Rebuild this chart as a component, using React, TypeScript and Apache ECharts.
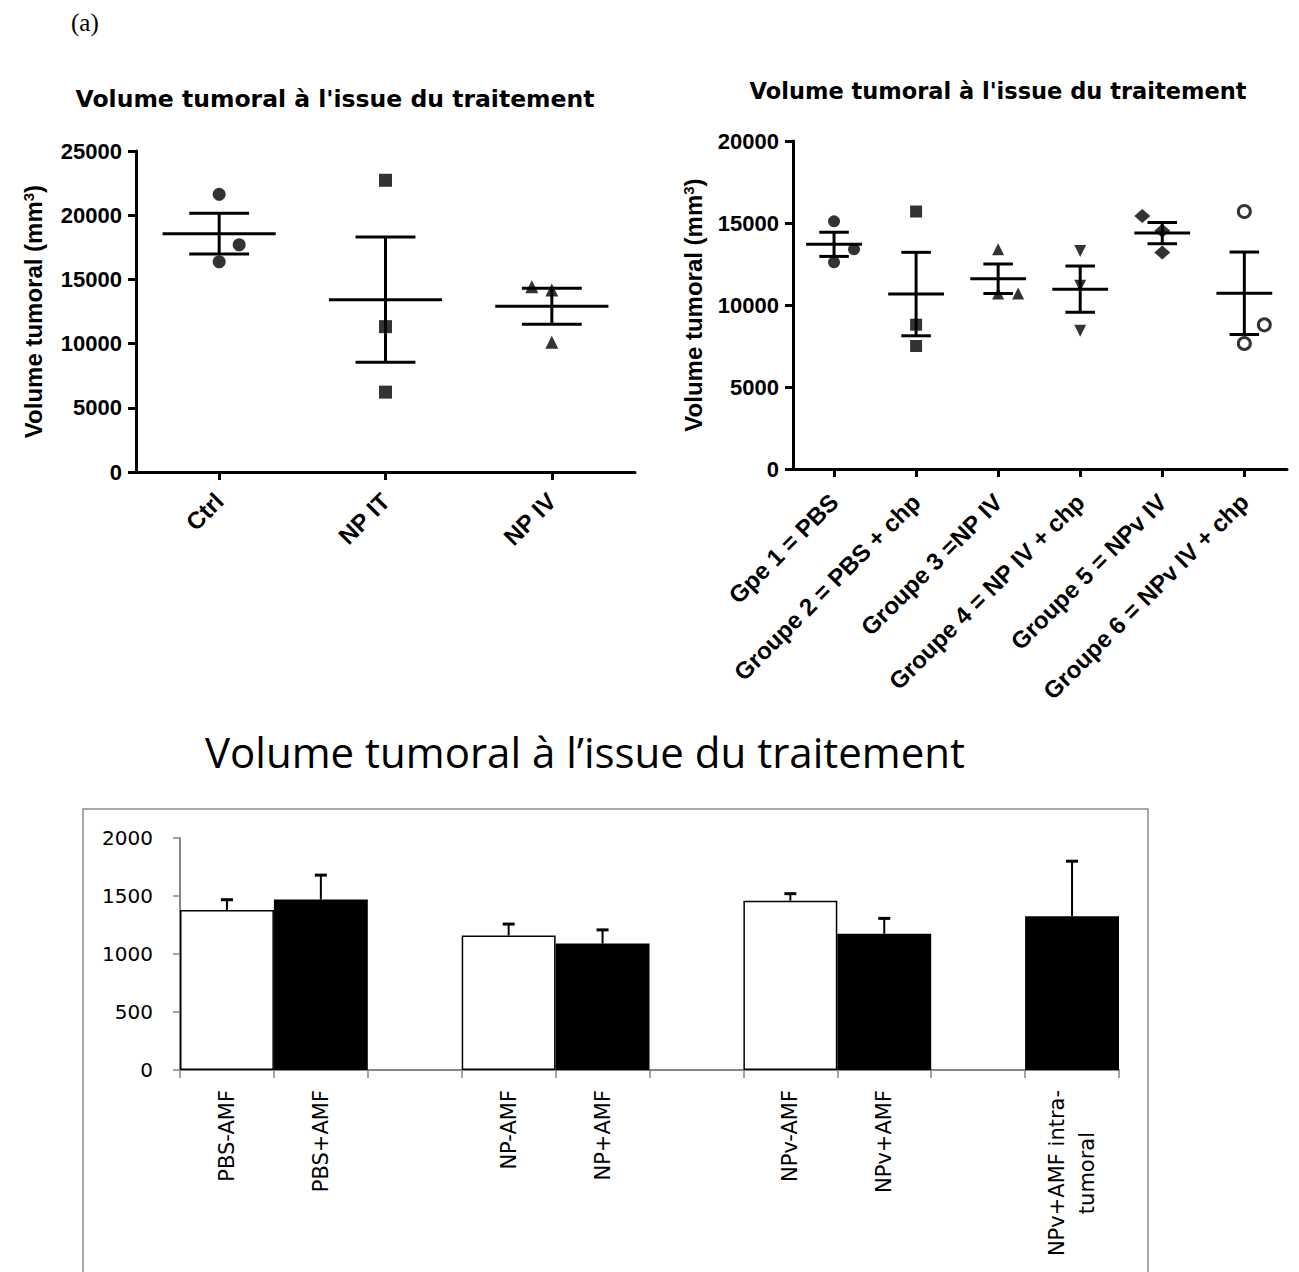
import React, { useEffect, useRef } from "react";
import * as echarts from "echarts";

// ---------- texts
const panelLabel = "(a)";
const dotPlotTitle = "Volume tumoral à l'issue du traitement";
const barChartTitle = "Volume tumoral à l’issue du traitement";
const volumeAxisName = "{t|Volume tumoral (mm}{s|3}{t|)}";

// ---------- left dot plot: individual tumour volumes (mm3)
const leftGroups = ["Ctrl", "NP IT", "NP IV"];
const ctrlVolumes = [21630, 17690, 16370];
const npItVolumes = [22720, 11320, 6220];
const npIvVolumes = [14430, 14170, 10100];
const leftVolumes = [ctrlVolumes, npItVolumes, npIvVolumes];
const leftSymbols = ["circle", "rect", "triangle"];
const leftJitterPx = [[0, 20, 0], [0, 0, 0], [-20, 0, 0]];
const leftYMax = 25000;
const leftYStep = 5000;

// ---------- right dot plot: individual tumour volumes (mm3)
const rightGroups = [
  "Gpe 1 = PBS",
  "Groupe 2 = PBS + chp",
  "Groupe 3 =NP IV",
  "Groupe 4 = NP IV + chp",
  "Groupe 5 = NPv IV",
  "Groupe 6 = NPv IV + chp",
];
const gpe1Volumes = [15100, 12600, 13400];
const gpe2Volumes = [15700, 8800, 7500];
const gpe3Volumes = [13400, 10700, 10700];
const gpe4Volumes = [13300, 11170, 8430];
const gpe5Volumes = [15430, 14520, 13200];
const gpe6Volumes = [15700, 8790, 7655];
const rightVolumes = [gpe1Volumes, gpe2Volumes, gpe3Volumes, gpe4Volumes, gpe5Volumes, gpe6Volumes];
const rightSymbols = ["circle", "rect", "triangle", "triangle", "diamond", "circle"];
const rightSymbolRotate = [0, 0, 0, 180, 0, 0];
const rightHollow = [false, false, false, false, false, true];
const rightJitterPx = [[0, 0, 20], [0, 0, 0], [0, 0, 20], [0, 0, 0], [-20, 0, 0], [0, 20, 0]];
const rightYMax = 20000;
const rightYStep = 5000;

// ---------- bottom bar chart (empty slots separate the groups)
const barCategories = [
  "PBS-AMF",
  "PBS+AMF",
  " ",
  "NP-AMF",
  "NP+AMF",
  "  ",
  "NPv-AMF",
  "NPv+AMF",
  "   ",
  "NPv+AMF intra-\ntumoral",
];
const withoutAmf = [1380, null, null, 1160, null, null, 1460, null, null, null];
const withAmf = [null, 1470, null, null, 1090, null, null, 1175, null, 1325];
const withoutAmfError = [88, null, null, 98, null, null, 60, null, null, null];
const withAmfError = [null, 210, null, null, 118, null, null, 132, null, 475];
const barYMax = 2000;
const barYStep = 500;

// ---------- helpers
const mean = (a: number[]) => a.reduce((s, v) => s + v, 0) / a.length;
const sem = (a: number[]) => {
  const m = mean(a);
  const sd = Math.sqrt(a.reduce((s, v) => s + (v - m) * (v - m), 0) / (a.length - 1));
  return sd / Math.sqrt(a.length);
};
const plain = (v: number) => String(v);

const ARIAL = "Liberation Sans";
const BLACK = "#000";
const GREY = "#868686";

function meanSemSeries(groups: number[][], axisIndex: number) {
  return {
    type: "custom",
    xAxisIndex: axisIndex,
    yAxisIndex: axisIndex,
    silent: true,
    z: 3,
    encode: { x: 0, y: [1, 2, 3] },
    data: groups.map((g, i) => {
      const m = mean(g);
      const e = sem(g);
      return [i + 1, m, m - e, m + e];
    }),
    renderItem: (_params: any, api: any) => {
      const x = api.value(0);
      const m = api.value(1);
      const lo = api.value(2);
      const hi = api.value(3);
      const mL = api.coord([x - 0.34, m]);
      const mR = api.coord([x + 0.34, m]);
      const loL = api.coord([x - 0.18, lo]);
      const loR = api.coord([x + 0.18, lo]);
      const hiL = api.coord([x - 0.18, hi]);
      const hiR = api.coord([x + 0.18, hi]);
      const c = api.coord([x, m]);
      const st = { stroke: BLACK, lineWidth: 3 };
      return {
        type: "group",
        children: [
          { type: "line", shape: { x1: mL[0], y1: mL[1], x2: mR[0], y2: mR[1] }, style: st },
          { type: "line", shape: { x1: c[0], y1: loL[1], x2: c[0], y2: hiL[1] }, style: st },
          { type: "line", shape: { x1: loL[0], y1: loL[1], x2: loR[0], y2: loR[1] }, style: st },
          { type: "line", shape: { x1: hiL[0], y1: hiL[1], x2: hiR[0], y2: hiR[1] }, style: st },
        ],
      };
    },
  };
}

function dotXAxis(gridIndex: number, names: string[], max: number, fontSize: number, margin: number) {
  const ticks = names.map((_, i) => i + 1);
  return {
    type: "value",
    gridIndex,
    min: 0.5,
    max,
    splitLine: { show: false },
    axisLine: { show: true, lineStyle: { color: BLACK, width: 3 } },
    axisTick: { show: true, customValues: ticks, length: 8, lineStyle: { color: BLACK, width: 3 } },
    axisLabel: {
      customValues: ticks,
      formatter: (v: number) => names[Math.round(v) - 1] ?? "",
      rotate: 45,
      margin,
      fontFamily: ARIAL,
      fontWeight: "bold",
      fontSize,
      color: BLACK,
    },
  };
}

function dotYAxis(gridIndex: number, max: number, step: number, nameGap: number) {
  return {
    type: "value",
    gridIndex,
    min: 0,
    max,
    interval: step,
    splitLine: { show: false },
    axisLine: { show: true, lineStyle: { color: BLACK, width: 3 } },
    axisTick: { show: true, length: 8, lineStyle: { color: BLACK, width: 3 } },
    axisLabel: { margin: 14, fontFamily: ARIAL, fontWeight: "bold", fontSize: 22, color: BLACK, formatter: plain },
    name: volumeAxisName,
    nameLocation: "middle",
    nameGap,
    nameRotate: 90,
    nameTextStyle: {
      rich: {
        t: { fontFamily: ARIAL, fontWeight: "bold", fontSize: 24, color: BLACK },
        s: { fontFamily: ARIAL, fontWeight: "bold", fontSize: 15, color: BLACK, verticalAlign: "top" },
      },
    },
  };
}

function scatterSeries(
  groups: number[][],
  axisIndex: number,
  symbols: string[],
  jitter: number[][],
  size: number,
  rotate: number[] = [],
  hollow: boolean[] = []
) {
  return groups.map((vals, gi) => ({
    type: "scatter",
    xAxisIndex: axisIndex,
    yAxisIndex: axisIndex,
    symbol: symbols[gi],
    symbolSize: symbols[gi] === "diamond" ? [size + 4, size + 2] : size,
    symbolRotate: rotate[gi] ?? 0,
    silent: true,
    z: 5,
    itemStyle: hollow[gi]
      ? { color: "#fff", borderColor: BLACK, borderWidth: 3 }
      : { color: BLACK },
    data: vals.map((v, k) => ({ value: [gi + 1, v], symbolOffset: [jitter[gi][k], 0] })),
  }));
}

function barErrorSeries(values: (number | null)[], errors: (number | null)[]) {
  const data: number[][] = [];
  values.forEach((v, i) => {
    if (v != null && errors[i] != null) data.push([i, v, v + (errors[i] as number)]);
  });
  return {
    type: "custom",
    xAxisIndex: 2,
    yAxisIndex: 2,
    silent: true,
    z: 4,
    encode: { x: 0, y: [1, 2] },
    data,
    renderItem: (_params: any, api: any) => {
      const base = api.coord([api.value(0), api.value(1)]);
      const top = api.coord([api.value(0), api.value(2)]);
      return {
        type: "group",
        children: [
          { type: "line", shape: { x1: base[0], y1: base[1], x2: top[0], y2: top[1] }, style: { stroke: BLACK, lineWidth: 2 } },
          { type: "line", shape: { x1: top[0] - 6, y1: top[1], x2: top[0] + 6, y2: top[1] }, style: { stroke: BLACK, lineWidth: 3 } },
        ],
      };
    },
  };
}

const option: any = {
  animation: false,
  backgroundColor: "#fff",
  graphic: [
    {
      type: "text",
      x: 71,
      y: 22,
      style: { text: panelLabel, fontFamily: "Liberation Serif", fontSize: 25, fill: BLACK, verticalAlign: "middle" },
    },
    {
      type: "text",
      x: 335,
      y: 99,
      style: { text: dotPlotTitle, fontFamily: "DejaVu Sans", fontWeight: "bold", fontSize: 23.5, fill: BLACK, align: "center", verticalAlign: "middle" },
    },
    {
      type: "text",
      x: 998,
      y: 91,
      style: { text: dotPlotTitle, fontFamily: "DejaVu Sans", fontWeight: "bold", fontSize: 22.5, fill: BLACK, align: "center", verticalAlign: "middle" },
    },
    {
      type: "text",
      x: 585,
      y: 751,
      style: { text: barChartTitle, fontFamily: "Open Sans", fontSize: 42, fill: BLACK, align: "center", verticalAlign: "middle" },
    },
    {
      type: "rect",
      shape: { x: 83, y: 809, width: 1065, height: 520 },
      style: { fill: "none", stroke: "#8c8c8c", lineWidth: 1.5 },
      silent: true,
    },
  ],
  grid: [
    { left: 136, top: 151, width: 499, height: 321 },
    { left: 793, top: 141, width: 494, height: 328 },
    { left: 180, top: 838, width: 939, height: 232 },
  ],
  xAxis: [
    dotXAxis(0, leftGroups, 3.5, 24, 25),
    dotXAxis(1, rightGroups, 6.52, 24, 29),
    {
      type: "category",
      gridIndex: 2,
      data: barCategories,
      boundaryGap: true,
      axisLine: { show: true, lineStyle: { color: GREY, width: 2 } },
      axisTick: { show: true, interval: 0, length: 8, lineStyle: { color: GREY, width: 1.5 } },
      axisLabel: {
        interval: 0,
        rotate: 90,
        margin: 20,
        fontFamily: "DejaVu Sans",
        fontSize: 21,
        lineHeight: 30,
        color: BLACK,
        formatter: (v: string) => {
          const lines = v.split("\n");
          if (lines.length === 1) return v;
          return lines.map((l, i) => (i === 0 ? `{a|${l}}` : `{b|${l}}`)).join("\n");
        },
        rich: {
          a: { fontFamily: "DejaVu Sans", fontSize: 21, lineHeight: 30, color: BLACK },
          b: { fontFamily: "DejaVu Sans", fontSize: 21, lineHeight: 30, color: BLACK, align: "center" },
        },
      },
      splitLine: { show: false },
    },
  ],
  yAxis: [
    dotYAxis(0, leftYMax, leftYStep, 91),
    dotYAxis(1, rightYMax, rightYStep, 88),
    {
      type: "value",
      gridIndex: 2,
      min: 0,
      max: barYMax,
      interval: barYStep,
      splitLine: { show: false },
      axisLine: { show: true, lineStyle: { color: GREY, width: 2 } },
      axisTick: { show: true, length: 7, lineStyle: { color: GREY, width: 1.5 } },
      axisLabel: { margin: 27, fontFamily: "DejaVu Sans", fontSize: 20, color: BLACK, formatter: plain },
    },
  ],
  series: [
    ...scatterSeries(leftVolumes, 0, leftSymbols, leftJitterPx, 13),
    meanSemSeries(leftVolumes, 0),
    ...scatterSeries(rightVolumes, 1, rightSymbols, rightJitterPx, 12, rightSymbolRotate, rightHollow),
    meanSemSeries(rightVolumes, 1),
    {
      type: "bar",
      name: "-AMF",
      xAxisIndex: 2,
      yAxisIndex: 2,
      data: withoutAmf,
      barGap: "-100%",
      barCategoryGap: "0%",
      silent: true,
      itemStyle: { color: "#fff", borderColor: BLACK, borderWidth: 1.5 },
    },
    {
      type: "bar",
      name: "+AMF",
      xAxisIndex: 2,
      yAxisIndex: 2,
      data: withAmf,
      barGap: "-100%",
      barCategoryGap: "0%",
      silent: true,
      itemStyle: { color: BLACK },
    },
    barErrorSeries(withoutAmf, withoutAmfError),
    barErrorSeries(withAmf, withAmfError),
  ],
};

export default function App() {
  const ref = useRef<HTMLDivElement>(null);
  useEffect(() => {
    if (!ref.current) return;
    const chart = echarts.init(ref.current, undefined, { renderer: "svg" });
    chart.setOption(option);
    return () => chart.dispose();
  }, []);
  return (
    <div
      ref={ref}
      style={{ position: "absolute", left: 0, top: 0, width: 1299, height: 1272, background: "#fff" }}
    />
  );
}
